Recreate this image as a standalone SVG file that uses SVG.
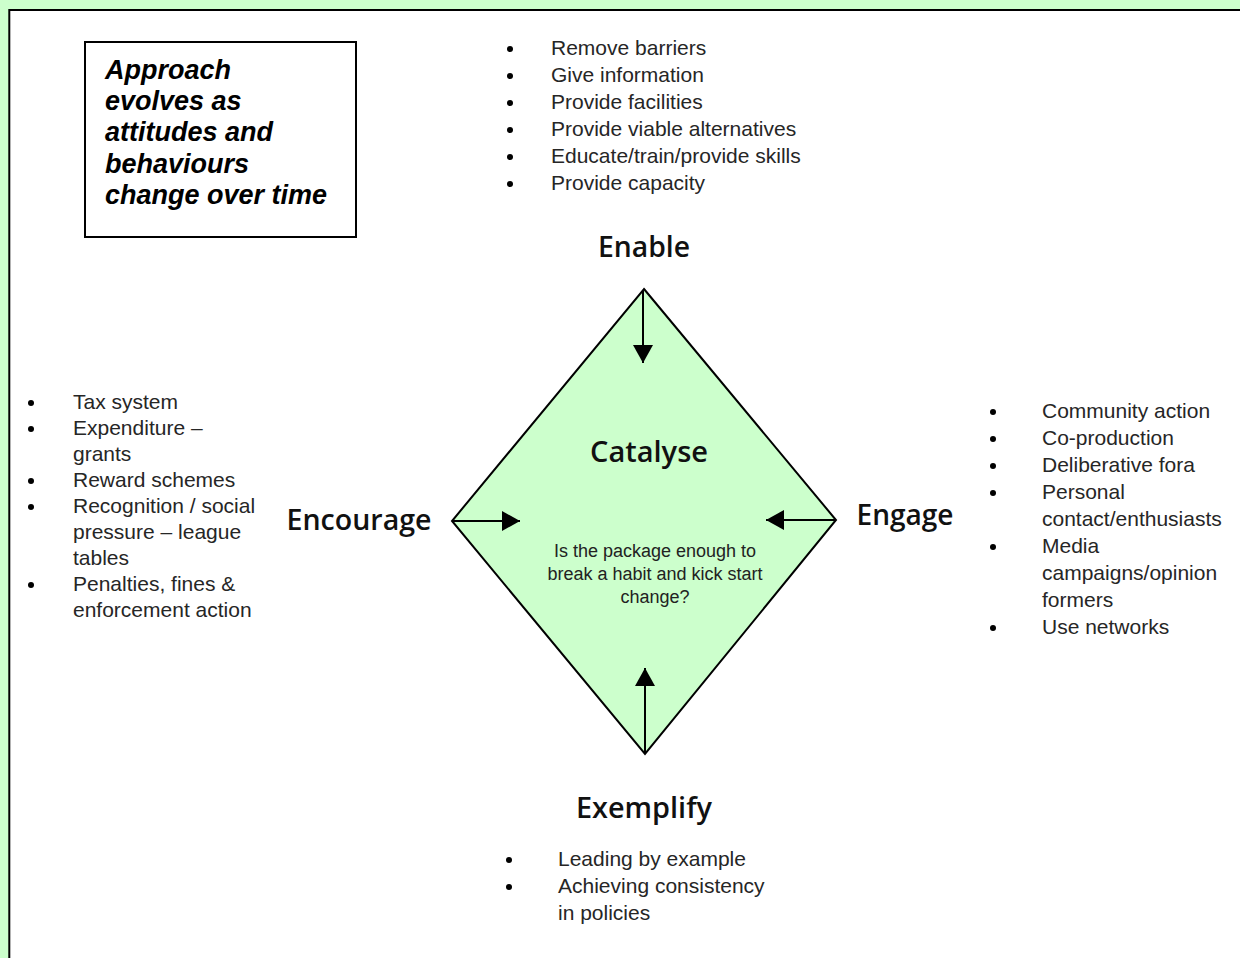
<svg xmlns="http://www.w3.org/2000/svg" width="1240" height="958" viewBox="0 0 1240 958">
<style>
.lst{font-family:"Liberation Sans",Arial,sans-serif;font-size:21px;fill:#262626}
.lbl{font-family:"Open Sans","Liberation Sans",sans-serif;font-size:28px;font-weight:600;fill:#111;text-anchor:middle}
.box{font-family:"Liberation Sans",Arial,sans-serif;font-size:27px;font-weight:bold;font-style:italic;fill:#000}
.ctr{font-family:"Liberation Sans",Arial,sans-serif;font-size:18px;fill:#222;text-anchor:middle}
.bul{fill:#000}
.arr{stroke:#000;stroke-width:2;fill:none;marker-end:url(#ah)}
</style>
<defs>
<marker id="ah" markerUnits="userSpaceOnUse" markerWidth="19" markerHeight="21" refX="18" refY="10" orient="auto">
<path d="M0,0 L18,10 L0,20 Z" fill="#000"/>
</marker>
</defs>
<rect x="0" y="0" width="1240" height="958" fill="#ccffcc"/>
<rect x="9.3" y="10" width="1300" height="1000" fill="#fff" stroke="#000" stroke-width="2"/>

<g id="note">
<rect x="85" y="42" width="271" height="195" fill="#fff" stroke="#000" stroke-width="2"/>
<text class="box" x="105" y="79">Approach</text>
<text class="box" x="105" y="110">evolves as</text>
<text class="box" x="105" y="141">attitudes and</text>
<text class="box" x="105" y="173">behaviours</text>
<text class="box" x="105" y="204">change over time</text>
</g>

<g id="catalyse">
<polygon points="644,289 836,520 645,754 452,521" fill="#ccffcc" stroke="#000" stroke-width="2" stroke-linejoin="miter"/>
<text class="lbl" x="649" y="462" textLength="118" lengthAdjust="spacingAndGlyphs">Catalyse</text>
<text class="ctr" x="655" y="557">Is the package enough to</text>
<text class="ctr" x="655" y="580">break a habit and kick start</text>
<text class="ctr" x="655" y="603">change?</text>
</g>

<g id="enable">
<text class="lbl" x="644" y="257" textLength="92" lengthAdjust="spacingAndGlyphs">Enable</text>
<g class="lst">
<text x="551" y="55">Remove barriers</text>
<text x="551" y="82">Give information</text>
<text x="551" y="109">Provide facilities</text>
<text x="551" y="136">Provide viable alternatives</text>
<text x="551" y="163">Educate/train/provide skills</text>
<text x="551" y="190">Provide capacity</text>
</g>
<g class="bul">
<circle cx="510" cy="49" r="3"/><circle cx="510" cy="76" r="3"/><circle cx="510" cy="103" r="3"/>
<circle cx="510" cy="130" r="3"/><circle cx="510" cy="157" r="3"/><circle cx="510" cy="184" r="3"/>
</g>
</g>

<g id="encourage">
<text class="lbl" x="359" y="530" textLength="145" lengthAdjust="spacingAndGlyphs">Encourage</text>
<g class="lst">
<text x="73" y="409">Tax system</text>
<text x="73" y="435">Expenditure –</text>
<text x="73" y="461">grants</text>
<text x="73" y="487">Reward schemes</text>
<text x="73" y="513">Recognition / social</text>
<text x="73" y="539">pressure – league</text>
<text x="73" y="565">tables</text>
<text x="73" y="591">Penalties, fines &amp;</text>
<text x="73" y="617">enforcement action</text>
</g>
<g class="bul">
<circle cx="31" cy="403" r="3"/><circle cx="31" cy="429" r="3"/><circle cx="31" cy="481" r="3"/>
<circle cx="31" cy="507" r="3"/><circle cx="31" cy="585" r="3"/>
</g>
</g>

<g id="engage">
<text class="lbl" x="905" y="525" textLength="97" lengthAdjust="spacingAndGlyphs">Engage</text>
<g class="lst">
<text x="1042" y="418">Community action</text>
<text x="1042" y="445">Co-production</text>
<text x="1042" y="472">Deliberative fora</text>
<text x="1042" y="499">Personal</text>
<text x="1042" y="526">contact/enthusiasts</text>
<text x="1042" y="553">Media</text>
<text x="1042" y="580">campaigns/opinion</text>
<text x="1042" y="607">formers</text>
<text x="1042" y="634">Use networks</text>
</g>
<g class="bul">
<circle cx="993" cy="412" r="3"/><circle cx="993" cy="439" r="3"/><circle cx="993" cy="466" r="3"/>
<circle cx="993" cy="493" r="3"/><circle cx="993" cy="547" r="3"/><circle cx="993" cy="628" r="3"/>
</g>
</g>

<g id="exemplify">
<text class="lbl" x="644" y="818" textLength="136" lengthAdjust="spacingAndGlyphs">Exemplify</text>
<g class="lst">
<text x="558" y="866">Leading by example</text>
<text x="558" y="893">Achieving consistency</text>
<text x="558" y="920">in policies</text>
</g>
<g class="bul">
<circle cx="509" cy="860" r="3"/><circle cx="509" cy="887" r="3"/>
</g>
</g>

<g id="connectors">
<line class="arr" x1="643" y1="291" x2="643" y2="363"/>
<line class="arr" x1="453" y1="521" x2="520" y2="521"/>
<line class="arr" x1="835" y1="520" x2="766" y2="520"/>
<line class="arr" x1="645" y1="752" x2="645" y2="668"/>
</g>
</svg>
